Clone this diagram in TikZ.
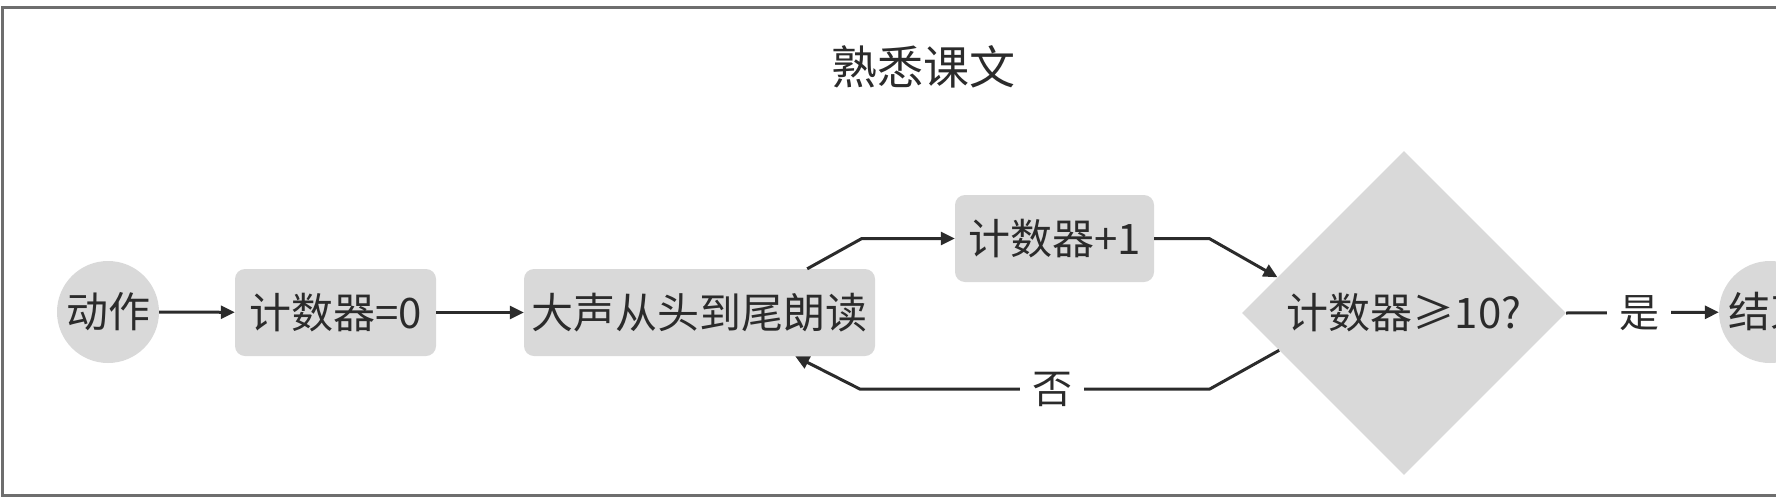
\documentclass[tikz,border=0pt]{standalone}
\usepackage{fontspec}
\setmainfont{Noto Sans CJK SC}
\usetikzlibrary{shapes.geometric,arrows.meta,calc}
\definecolor{ink}{HTML}{2B2B2B}
\definecolor{boxfill}{HTML}{D9D9D9}
\definecolor{framecol}{HTML}{6E6E6E}
\begin{document}
\begin{tikzpicture}[x=1pt,y=-1pt,
  txt/.style={text=ink,font=\fontsize{42}{50}\selectfont},
  roundbox/.style={txt,fill=boxfill,rounded corners=10pt,inner sep=0pt,minimum height=87pt},
  circnode/.style={txt,fill=boxfill,circle,inner sep=0pt,minimum size=102pt},
  decision/.style={txt,fill=boxfill,diamond,aspect=1,inner sep=0pt,minimum width=324pt,minimum height=324pt},
  conn/.style={draw=ink,line width=3pt,-{Triangle[length=14pt,width=13pt]}},
  edgelabel/.style={txt,fill=white,inner xsep=12pt,inner ysep=2pt,font=\fontsize{40}{48}\selectfont}
]
\useasboundingbox (0,0) rectangle (1776,498);
\clip (0,0) rectangle (1776,498);
\draw[framecol,line width=3pt] (2,7) rectangle (1800,495);

\node[txt,font=\fontsize{46}{54}\selectfont] (title) at (923,67) {熟悉课文};

\node[circnode] (start) at (108,312) {动作};
\node[roundbox,minimum width=201pt] (init) at (335.5,312.5) {计数器=0};
\node[roundbox,minimum width=351pt] (read) at (699.5,312.5) {大声从头到尾朗读};
\node[roundbox,minimum width=199pt] (inc) at (1054.5,238.5) {计数器+1};
\node[decision] (dec) at (1404,313) {计数器≥10?};
\node[circnode] (stop) at (1770,312) {结束};

\draw[conn] (start) -- (init);
\draw[conn] (init) -- (read);
\draw[conn] ([xshift=-68pt]read.north east) -- ([xshift=-93pt]inc.west) -- (inc.west);
\draw[conn] (inc.east) -- ([xshift=55pt]inc.east) -- ($(dec.west)!0.22!(dec.north)$);
\draw[conn] ($(dec.west)!0.23!(dec.south)$) -- ($(dec.west)+(-32,76)$)
   -- node[edgelabel,pos=0.45] (no) {否} ($(dec.west)+(-382,76)$)
   -- ([xshift=-80pt]read.south east);
\draw[conn] (dec.east) -- node[edgelabel,pos=0.48] (yes) {是} (stop);
\end{tikzpicture}
\end{document}
